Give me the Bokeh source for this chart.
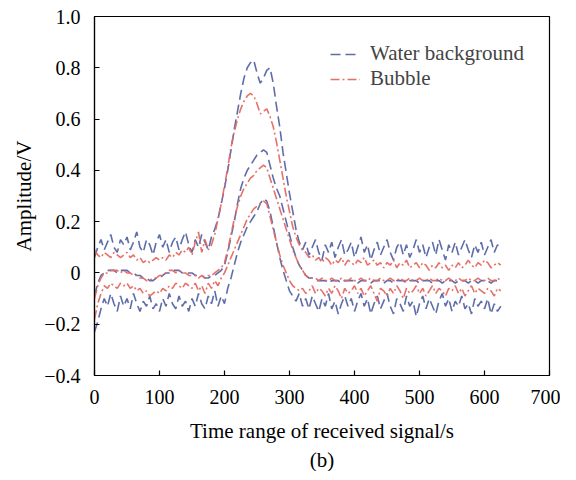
from bokeh.plotting import figure
from bokeh.models import (Range1d, Legend, LegendItem, FixedTicker,
                          CustomJSTickFormatter, Title)
from bokeh.embed import file_html
from bokeh.resources import INLINE

# sample times (s)
x = list(range(0, 630, 5))

# Water background: upper envelope, mean, lower envelope
water_upper = [
    0.06, 0.10, 0.13, 0.09, 0.12, 0.15, 0.10, 0.08, 0.13, 0.11,
    0.14, 0.09, 0.12, 0.16, 0.10, 0.08, 0.13, 0.11, 0.07, 0.12,
    0.15, 0.10, 0.13, 0.08, 0.12, 0.14, 0.09, 0.13, 0.16, 0.11,
    0.08, 0.13, 0.10, 0.15, 0.12, 0.09, 0.14, 0.17, 0.21, 0.27,
    0.33, 0.40, 0.48, 0.56, 0.63, 0.70, 0.76, 0.80, 0.82, 0.83,
    0.78, 0.74, 0.76, 0.79, 0.80, 0.74, 0.65, 0.57, 0.47, 0.39,
    0.31, 0.24, 0.17, 0.12, 0.09, 0.12, 0.07, 0.10, 0.13, 0.08,
    0.05, 0.11, 0.08, 0.12, 0.06, 0.10, 0.13, 0.07, 0.09, 0.12,
    0.06, 0.10, 0.14, 0.08, 0.11, 0.05, 0.09, 0.12, 0.07, 0.10,
    0.13, 0.08, 0.05, 0.10, 0.12, 0.07, 0.11, 0.06, 0.09, 0.13,
    0.08, 0.11, 0.06, 0.10, 0.12, 0.07, 0.13, 0.09, 0.05, 0.11,
    0.08, 0.12, 0.07, 0.10, 0.13, 0.09, 0.06, 0.11, 0.08, 0.12,
    0.07, 0.10, 0.13, 0.08, 0.11, 0.09,
]
water_mean = [
    -0.09, -0.04, -0.01, 0.00, 0.01, 0.01, 0.01, 0.00, 0.01, 0.01,
    0.01, 0.00, 0.00, -0.01, -0.01, -0.02, -0.02, -0.03, -0.03, -0.02,
    -0.02, -0.01, 0.00, 0.00, 0.01, 0.01, 0.01, 0.00, 0.00, 0.00,
    0.00, -0.01, -0.01, -0.01, -0.02, -0.02, -0.01, -0.01, 0.00, 0.01,
    0.03, 0.08, 0.14, 0.20, 0.27, 0.33, 0.37, 0.40, 0.42, 0.44,
    0.46, 0.47, 0.48, 0.47, 0.42, 0.37, 0.33, 0.30, 0.25, 0.20,
    0.15, 0.10, 0.06, 0.03, 0.01, -0.01, -0.02, -0.02, -0.03, -0.03,
    -0.03, -0.03, -0.04, -0.03, -0.03, -0.03, -0.04, -0.03, -0.03, -0.03,
    -0.03, -0.04, -0.03, -0.03, -0.03, -0.04, -0.03, -0.03, -0.03, -0.04,
    -0.03, -0.03, -0.04, -0.03, -0.03, -0.03, -0.04, -0.03, -0.03, -0.03,
    -0.04, -0.03, -0.03, -0.03, -0.04, -0.03, -0.03, -0.04, -0.03, -0.03,
    -0.03, -0.04, -0.03, -0.03, -0.03, -0.04, -0.03, -0.03, -0.04, -0.03,
    -0.03, -0.03, -0.04, -0.03, -0.03, -0.04,
]
water_lower = [
    -0.23, -0.19, -0.14, -0.10, -0.13, -0.08, -0.12, -0.15, -0.09, -0.13,
    -0.10, -0.14, -0.08, -0.12, -0.15, -0.11, -0.13, -0.09, -0.14, -0.12,
    -0.15, -0.10, -0.13, -0.08, -0.12, -0.14, -0.09, -0.13, -0.11, -0.15,
    -0.10, -0.13, -0.08, -0.12, -0.14, -0.09, -0.12, -0.07, -0.13, -0.09,
    -0.12, -0.06, -0.02, 0.03, 0.08, 0.12, 0.15, 0.18, 0.20, 0.22,
    0.24, 0.27, 0.29, 0.28, 0.24, 0.18, 0.12, 0.06, 0.01, -0.03,
    -0.07, -0.09, -0.11, -0.08, -0.13, -0.10, -0.14, -0.09, -0.12, -0.15,
    -0.10, -0.13, -0.08, -0.14, -0.11, -0.16, -0.12, -0.09, -0.13, -0.10,
    -0.15, -0.11, -0.08, -0.13, -0.10, -0.16, -0.12, -0.09, -0.14, -0.11,
    -0.08, -0.13, -0.16, -0.10, -0.12, -0.15, -0.09, -0.13, -0.11, -0.17,
    -0.12, -0.09, -0.14, -0.10, -0.13, -0.16, -0.11, -0.08, -0.13, -0.10,
    -0.15, -0.11, -0.13, -0.09, -0.14, -0.12, -0.16, -0.10, -0.13, -0.11,
    -0.14, -0.10, -0.16, -0.12, -0.15, -0.13,
]

# Bubble: upper envelope, mean, lower envelope
bubble_upper = [
    0.09, 0.07, 0.06, 0.08, 0.07, 0.06, 0.08, 0.07, 0.06, 0.07,
    0.08, 0.06, 0.07, 0.05, 0.06, 0.04, 0.05, 0.04, 0.05, 0.06,
    0.05, 0.06, 0.05, 0.07, 0.06, 0.08, 0.07, 0.09, 0.08, 0.10,
    0.07, 0.12, 0.16, 0.08, 0.13, 0.09, 0.11, 0.15, 0.21, 0.27,
    0.34, 0.41, 0.49, 0.55, 0.60, 0.64, 0.67, 0.69, 0.70, 0.69,
    0.66, 0.62, 0.63, 0.64, 0.61, 0.57, 0.51, 0.44, 0.37, 0.30,
    0.24, 0.18, 0.14, 0.11, 0.09, 0.08, 0.06, 0.07, 0.05, 0.06,
    0.04, 0.06, 0.05, 0.03, 0.05, 0.04, 0.06, 0.03, 0.05, 0.04,
    0.03, 0.05, 0.04, 0.06, 0.03, 0.04, 0.05, 0.03, 0.04, 0.02,
    0.04, 0.03, 0.05, 0.02, 0.04, 0.03, 0.05, 0.02, 0.03, 0.04,
    0.02, 0.04, 0.03, 0.01, 0.03, 0.02, 0.04, 0.02, 0.03, 0.01,
    0.03, 0.02, 0.04, 0.02, 0.03, 0.05, 0.03, 0.02, 0.04, 0.03,
    0.05, 0.04, 0.02, 0.03, 0.04, 0.03,
]
bubble_mean = [
    -0.10, -0.05, -0.02, 0.00, 0.00, 0.01, 0.01, 0.01, 0.00, 0.01,
    0.00, 0.00, -0.01, -0.01, -0.02, -0.02, -0.03, -0.03, -0.02, -0.02,
    -0.01, -0.01, 0.00, 0.01, 0.01, 0.00, 0.01, 0.00, 0.00, -0.01,
    -0.01, -0.01, -0.02, -0.01, -0.02, -0.01, -0.01, 0.00, 0.01, 0.02,
    0.04, 0.09, 0.15, 0.21, 0.26, 0.30, 0.33, 0.35, 0.37, 0.38,
    0.40, 0.41, 0.42, 0.41, 0.37, 0.33, 0.29, 0.25, 0.21, 0.17,
    0.13, 0.09, 0.06, 0.03, 0.01, -0.01, -0.02, -0.02, -0.02, -0.03,
    -0.02, -0.03, -0.03, -0.02, -0.03, -0.03, -0.02, -0.03, -0.03, -0.02,
    -0.03, -0.03, -0.02, -0.03, -0.03, -0.02, -0.03, -0.03, -0.02, -0.03,
    -0.03, -0.02, -0.03, -0.03, -0.02, -0.03, -0.03, -0.02, -0.03, -0.03,
    -0.02, -0.03, -0.03, -0.02, -0.03, -0.03, -0.02, -0.03, -0.03, -0.02,
    -0.03, -0.03, -0.02, -0.03, -0.03, -0.02, -0.03, -0.03, -0.02, -0.03,
    -0.03, -0.02, -0.03, -0.03, -0.02, -0.03,
]
bubble_lower = [
    -0.18, -0.12, -0.08, -0.05, -0.06, -0.04, -0.05, -0.06, -0.04, -0.05,
    -0.04, -0.06, -0.05, -0.07, -0.06, -0.08, -0.07, -0.09, -0.08, -0.07,
    -0.08, -0.06, -0.07, -0.05, -0.06, -0.04, -0.05, -0.06, -0.04, -0.05,
    -0.06, -0.04, -0.07, -0.05, -0.08, -0.04, -0.06, -0.03, -0.05, -0.02,
    0.00, 0.03, 0.06, 0.09, 0.12, 0.15, 0.18, 0.21, 0.23, 0.25,
    0.26, 0.27, 0.28, 0.27, 0.22, 0.17, 0.12, 0.07, 0.03, 0.00,
    -0.03, -0.05, -0.06, -0.07, -0.06, -0.08, -0.07, -0.05, -0.08, -0.06,
    -0.07, -0.09, -0.06, -0.08, -0.05, -0.07, -0.10, -0.06, -0.08, -0.07,
    -0.05, -0.08, -0.06, -0.09, -0.07, -0.05, -0.08, -0.11, -0.06, -0.07,
    -0.09, -0.06, -0.08, -0.05, -0.07, -0.10, -0.06, -0.08, -0.07, -0.05,
    -0.08, -0.06, -0.09, -0.07, -0.05, -0.08, -0.06, -0.07, -0.09, -0.06,
    -0.07, -0.05, -0.08, -0.06, -0.09, -0.07, -0.05, -0.08, -0.06, -0.07,
    -0.08, -0.06, -0.07, -0.09, -0.06, -0.07,
]

x_ticks = [0, 100, 200, 300, 400, 500, 600, 700]
y_ticks = [-0.4, -0.2, 0, 0.2, 0.4, 0.6, 0.8, 1.0]
legend_labels = ["Water background", "Bubble"]

BLUE = "#5565a5"
RED = "#e46a62"
FONT = "Liberation Serif"

p = figure(frame_width=455, frame_height=359, output_backend="svg",
           toolbar_location=None,
           x_range=Range1d(0, 700), y_range=Range1d(-0.4, 1.0),
           min_border_left=94, min_border_right=11,
           min_border_top=16, min_border_bottom=0)

p.grid.visible = False
p.outline_line_color = "black"
p.outline_line_width = 1.2
p.outline_line_alpha = 1.0

blue_r = []
for ys in (water_upper, water_mean, water_lower):
    blue_r.append(p.line(x, ys, line_color=BLUE, line_width=1.6,
                         line_dash="10 5", line_alpha=0.95))
red_r = []
for ys in (bubble_upper, bubble_mean, bubble_lower):
    red_r.append(p.line(x, ys, line_color=RED, line_width=1.6,
                        line_dash="9 3 2 3", line_alpha=0.95))

for ax in (p.xaxis[0], p.yaxis[0]):
    ax.major_tick_in = 5
    ax.major_tick_out = 0
    ax.minor_tick_in = 0
    ax.minor_tick_out = 0
    ax.axis_line_color = "black"
    ax.axis_line_width = 1.2
    ax.major_tick_line_width = 1.2
    ax.major_label_text_font = FONT
    ax.major_label_text_font_size = "20px"
    ax.major_label_text_color = "black"
    ax.axis_label_text_font = FONT
    ax.axis_label_text_font_size = "21px"
    ax.axis_label_text_font_style = "normal"
    ax.axis_label_text_color = "black"

p.xaxis.ticker = FixedTicker(ticks=x_ticks)
p.yaxis.ticker = FixedTicker(ticks=y_ticks)
p.yaxis.formatter = CustomJSTickFormatter(code="""
if (Math.abs(tick) < 1e-9) { return "0"; }
return tick.toFixed(1).replace("-", "\u2212");
""")
p.xaxis.axis_label = "Time range of received signal/s"
p.yaxis.axis_label = "Amplitude/V"
p.xaxis.major_label_standoff = 14
p.yaxis.major_label_standoff = 14
p.xaxis.axis_label_standoff = 12
p.yaxis.axis_label_standoff = 5

legend = Legend(items=[LegendItem(label=legend_labels[0], renderers=[blue_r[0]]),
                       LegendItem(label=legend_labels[1], renderers=[red_r[0]])],
                location="top_right", border_line_alpha=0,
                background_fill_alpha=0, label_text_font=FONT,
                label_text_font_size="21px", glyph_width=30, glyph_height=18,
                label_height=18, label_standoff=10, padding=4, margin=21,
                spacing=0)
p.add_layout(legend)

p.add_layout(Title(text="(b)", align="center", text_font=FONT,
                   text_font_size="21px", text_font_style="normal",
                   text_color="black", standoff=0), "below")

open("out.html", "w").write(file_html(p, INLINE))
